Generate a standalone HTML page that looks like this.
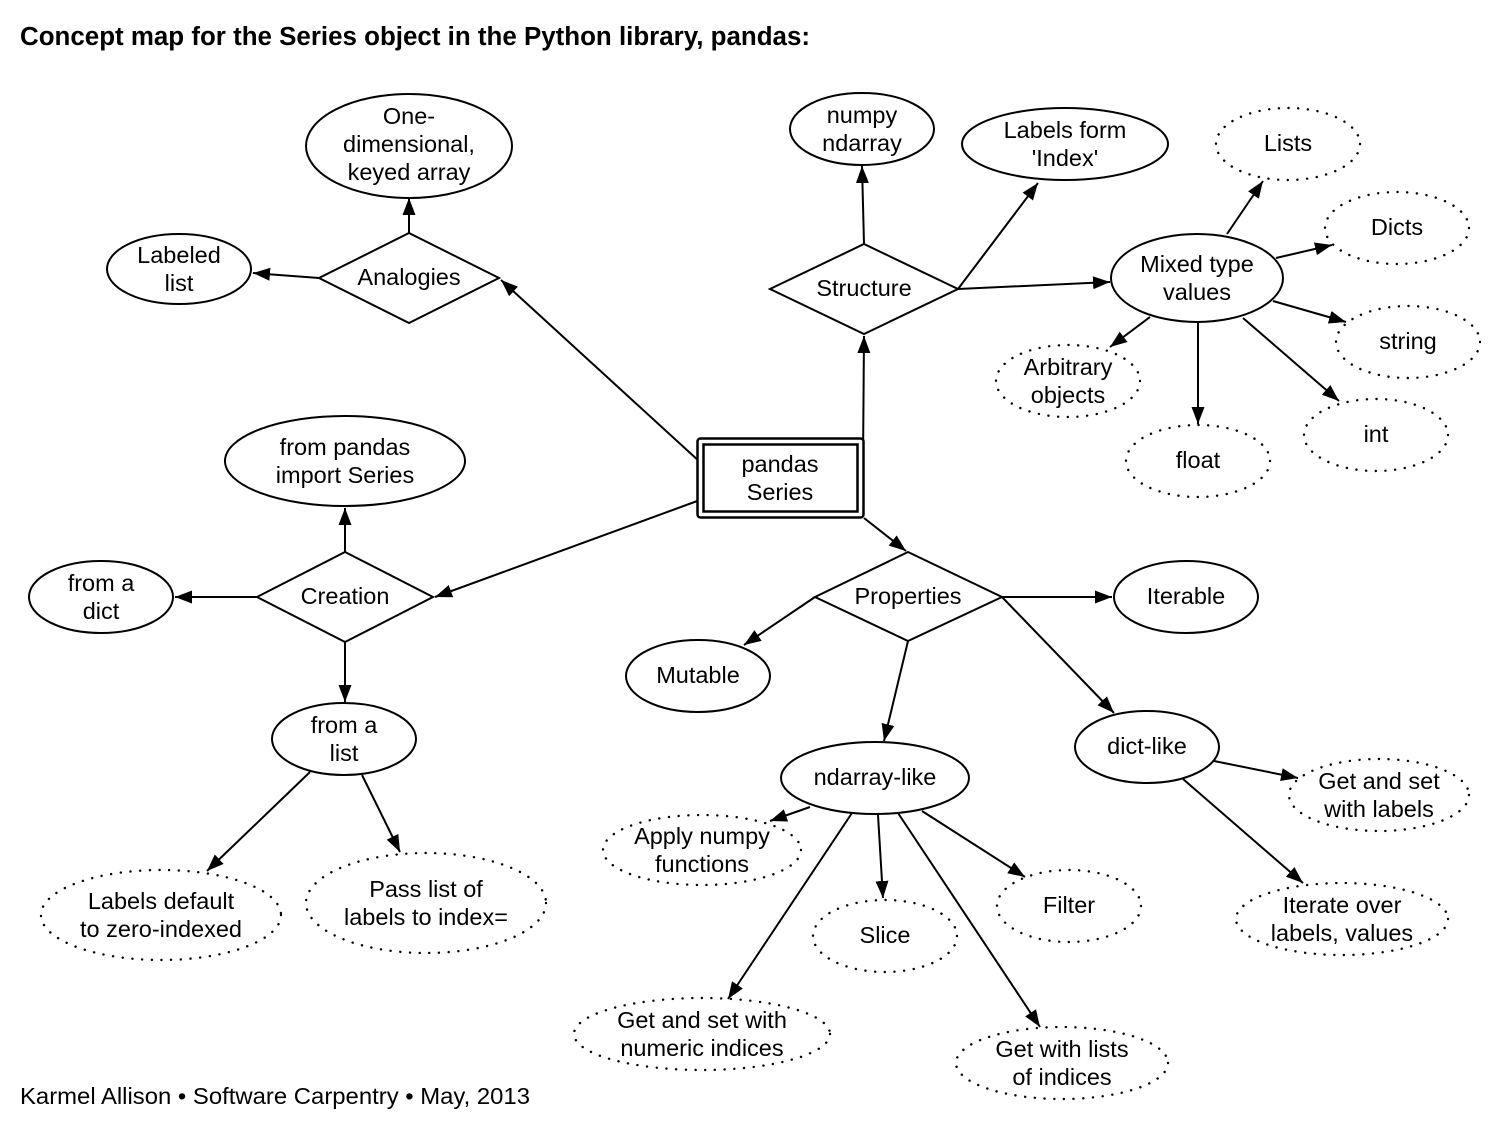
<!DOCTYPE html>
<html><head><meta charset="utf-8"><style>
html,body{margin:0;padding:0;background:#fff;}
svg{display:block;}
text{font-family:"Liberation Sans",Arial,Helvetica,sans-serif;font-size:23.5px;fill:#000;text-anchor:middle;}
.s{fill:#fff;stroke:#000;stroke-width:2;}
.d{fill:none;stroke:#000;stroke-width:2.4;stroke-dasharray:0.1 9.6;stroke-linecap:round;}
.e{stroke:#000;stroke-width:2;fill:none;marker-end:url(#ah);}
</style></head><body>
<svg width="1508" height="1128" viewBox="0 0 1508 1128" xmlns="http://www.w3.org/2000/svg">
<defs>
<marker id="ah" markerUnits="userSpaceOnUse" markerWidth="18" markerHeight="14" refX="17" refY="7" orient="auto">
<path d="M0,0.5 L17,7 L0,13.5 z" fill="#000"/>
</marker>
</defs>

<text x="20" y="45" style="font-weight:bold;font-size:25.5px;text-anchor:start" textLength="790" lengthAdjust="spacingAndGlyphs">Concept map for the Series object in the Python library, pandas:</text>
<text x="20" y="1104" style="text-anchor:start" textLength="510" lengthAdjust="spacingAndGlyphs">Karmel Allison • Software Carpentry • May, 2013</text>

<!-- edges -->
<line class="e" x1="409" y1="233" x2="409" y2="198"/>
<line class="e" x1="319" y1="278" x2="253" y2="273"/>
<line class="e" x1="700" y1="462" x2="501" y2="280"/>
<line class="e" x1="863" y1="463" x2="864" y2="336"/>
<line class="e" x1="864" y1="244" x2="862" y2="166"/>
<line class="e" x1="958" y1="289" x2="1038" y2="183"/>
<line class="e" x1="958" y1="289" x2="1110" y2="282"/>
<line class="e" x1="1227" y1="234" x2="1263" y2="181"/>
<line class="e" x1="1276" y1="258" x2="1332" y2="245"/>
<line class="e" x1="1273" y1="301" x2="1346" y2="322"/>
<line class="e" x1="1150" y1="317" x2="1110" y2="347"/>
<line class="e" x1="1198" y1="322" x2="1198" y2="424"/>
<line class="e" x1="1243" y1="318" x2="1339" y2="401"/>
<line class="e" x1="700" y1="500" x2="435" y2="597"/>
<line class="e" x1="345" y1="552" x2="345" y2="508"/>
<line class="e" x1="257" y1="597" x2="175" y2="597"/>
<line class="e" x1="345" y1="642" x2="345" y2="702"/>
<line class="e" x1="310" y1="772" x2="207" y2="871"/>
<line class="e" x1="362" y1="775" x2="400" y2="852"/>
<line class="e" x1="864" y1="518" x2="906" y2="551"/>
<line class="e" x1="1002" y1="597" x2="1112" y2="597"/>
<line class="e" x1="815" y1="597" x2="744" y2="645"/>
<line class="e" x1="908" y1="641" x2="884" y2="741"/>
<line class="e" x1="1002" y1="597" x2="1114" y2="713"/>
<line class="e" x1="810" y1="807" x2="770" y2="821"/>
<line class="e" x1="852" y1="813" x2="728" y2="999"/>
<line class="e" x1="878" y1="815" x2="883" y2="898"/>
<line class="e" x1="898" y1="813" x2="1040" y2="1027"/>
<line class="e" x1="922" y1="811" x2="1025" y2="877"/>
<line class="e" x1="1214" y1="761" x2="1298" y2="778"/>
<line class="e" x1="1183" y1="779" x2="1303" y2="883"/>

<!-- Analogies -->
<ellipse class="s" cx="409" cy="146" rx="103" ry="52"/>
<text x="409" y="124">One-</text><text x="409" y="152">dimensional,</text><text x="409" y="180">keyed array</text>
<polygon class="s" points="409,233 499,278 409,323 319,278"/>
<text x="409" y="285">Analogies</text>
<ellipse class="s" cx="179" cy="269" rx="72" ry="35"/>
<text x="179" y="263">Labeled</text><text x="179" y="291">list</text>

<!-- Structure -->
<ellipse class="s" cx="862" cy="129" rx="72" ry="36"/>
<text x="862" y="123">numpy</text><text x="862" y="151">ndarray</text>
<ellipse class="s" cx="1065" cy="144" rx="103" ry="36"/>
<text x="1065" y="138">Labels form</text><text x="1065" y="166">'Index'</text>
<polygon class="s" points="864,244 958,289 864,334 770,289"/>
<text x="864" y="296">Structure</text>
<ellipse class="s" cx="1197" cy="278" rx="86" ry="44"/>
<text x="1197" y="272">Mixed type</text><text x="1197" y="300">values</text>
<ellipse class="d" cx="1288" cy="144" rx="72" ry="36"/>
<text x="1288" y="151">Lists</text>
<ellipse class="d" cx="1397" cy="228" rx="72" ry="36"/>
<text x="1397" y="235">Dicts</text>
<ellipse class="d" cx="1408" cy="342" rx="72" ry="36"/>
<text x="1408" y="349">string</text>
<ellipse class="d" cx="1068" cy="381" rx="72" ry="36"/>
<text x="1068" y="375">Arbitrary</text><text x="1068" y="403">objects</text>
<ellipse class="d" cx="1376" cy="435" rx="72" ry="36"/>
<text x="1376" y="442">int</text>
<ellipse class="d" cx="1198" cy="461" rx="72" ry="36"/>
<text x="1198" y="468">float</text>

<!-- pandas Series -->
<rect x="697.5" y="438.5" width="166" height="79" rx="3" fill="#fff" stroke="#000" stroke-width="2.5"/>
<rect x="703.5" y="444.5" width="154" height="67" fill="none" stroke="#000" stroke-width="2.5"/>
<text x="780" y="472">pandas</text><text x="780" y="500">Series</text>

<!-- Creation -->
<ellipse class="s" cx="345" cy="461" rx="120" ry="45"/>
<text x="345" y="455">from pandas</text><text x="345" y="483">import Series</text>
<polygon class="s" points="345,552 433,597 345,642 257,597"/>
<text x="345" y="604">Creation</text>
<ellipse class="s" cx="101" cy="597" rx="72" ry="36"/>
<text x="101" y="591">from a</text><text x="101" y="619">dict</text>
<ellipse class="s" cx="344" cy="739" rx="72" ry="36"/>
<text x="344" y="733">from a</text><text x="344" y="761">list</text>
<ellipse class="d" cx="161" cy="915" rx="120" ry="45"/>
<text x="161" y="909">Labels default</text><text x="161" y="937">to zero-indexed</text>
<ellipse class="d" cx="426" cy="903" rx="120" ry="50"/>
<text x="426" y="897">Pass list of</text><text x="426" y="925">labels to index=</text>

<!-- Properties -->
<polygon class="s" points="908,552 1002,597 908,641 815,597"/>
<text x="908" y="604">Properties</text>
<ellipse class="s" cx="1186" cy="597" rx="72" ry="36"/>
<text x="1186" y="604">Iterable</text>
<ellipse class="s" cx="698" cy="676" rx="72" ry="36"/>
<text x="698" y="683">Mutable</text>
<ellipse class="s" cx="1147" cy="747" rx="72" ry="36"/>
<text x="1147" y="754">dict-like</text>
<ellipse class="s" cx="875" cy="778" rx="94" ry="36"/>
<text x="875" y="785">ndarray-like</text>
<ellipse class="d" cx="702" cy="850" rx="99" ry="35"/>
<text x="702" y="844">Apply numpy</text><text x="702" y="872">functions</text>
<ellipse class="d" cx="1379" cy="795" rx="90" ry="36"/>
<text x="1379" y="789">Get and set</text><text x="1379" y="817">with labels</text>
<ellipse class="d" cx="885" cy="936" rx="72" ry="36"/>
<text x="885" y="943">Slice</text>
<ellipse class="d" cx="1069" cy="906" rx="72" ry="36"/>
<text x="1069" y="913">Filter</text>
<ellipse class="d" cx="1342" cy="919" rx="106" ry="36"/>
<text x="1342" y="913">Iterate over</text><text x="1342" y="941">labels, values</text>
<ellipse class="d" cx="702" cy="1034" rx="128" ry="36"/>
<text x="702" y="1028">Get and set with</text><text x="702" y="1056">numeric indices</text>
<ellipse class="d" cx="1062" cy="1063" rx="106" ry="36"/>
<text x="1062" y="1057">Get with lists</text><text x="1062" y="1085">of indices</text>
</svg>
</body></html>
